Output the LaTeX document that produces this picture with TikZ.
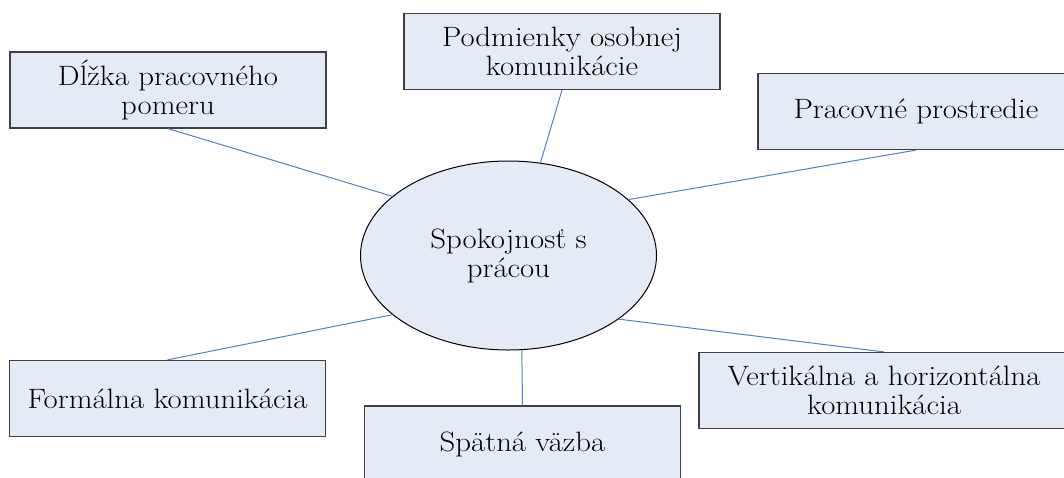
\documentclass[tikz,border=0pt]{standalone}
\usepackage{fontspec}
\setmainfont{Latin Modern Roman}[FakeStretch=1.1]
\usetikzlibrary{shapes.geometric}

\definecolor{boxfill}{RGB}{229,235,246}
\definecolor{boxline}{RGB}{64,64,64}
\definecolor{linkblue}{RGB}{79,129,189}

\begin{document}
\begin{tikzpicture}[x=1pt,y=-1pt,font=\fontsize{28}{29}\selectfont]
    \tikzstyle{factor}=[rectangle,draw=boxline,line width=1.2pt,fill=boxfill,minimum width=316pt,minimum height=76pt,align=center,inner sep=0pt]
    \tikzstyle{center}=[ellipse,draw=black,line width=1pt,fill=boxfill,minimum width=296pt,minimum height=189pt,align=center,inner sep=0pt]
    \tikzstyle{link}=[draw=linkblue,line width=1pt]

    \clip (0,0) rectangle (1064,477);

    \node[center] (spok) at (508.5,255.5) {Spokojnosť s\\prácou};

    \node[factor] (dlzka) at (168,90) {Dĺžka pracovného\\pomeru};
    \node[factor] (podm) at (562,51.5) {Podmienky osobnej\\komunikácie};
    \node[factor] (prac) at (916,111.5) {Pracovné prostredie};
    \node[factor] (form) at (167.5,398.5) {Formálna komunikácia};
    \node[factor] (spat) at (522.5,444) {Spätná väzba};
    \node[factor,minimum width=370pt] (vert) at (884,390.5) {Vertikálna a horizontálna\\komunikácia};

    \foreach \from/\to in {dlzka.south/spok.153, podm.south/spok.71, prac.south/spok.25,
                           form.north/spok.207, spat.north/spok.278, vert.north/spok.330}
        \draw[link] (\from) -- (\to);
\end{tikzpicture}
\end{document}
